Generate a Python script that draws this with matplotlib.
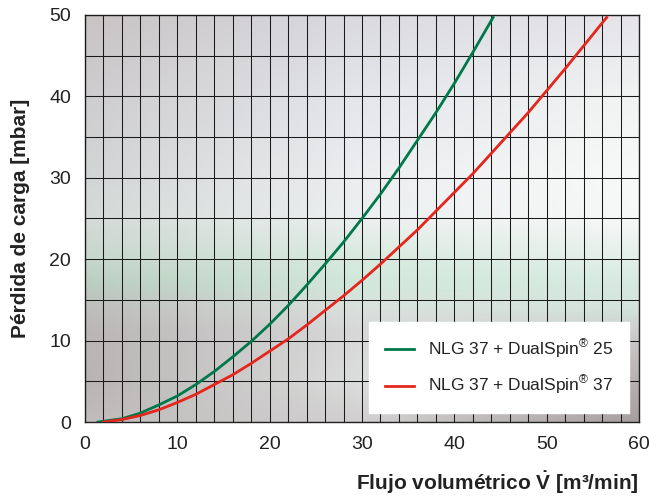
import numpy as np
import matplotlib
matplotlib.use('Agg')
import matplotlib.pyplot as plt

plt.rcParams['font.family'] = ['Liberation Sans', 'DejaVu Sans']
plt.rcParams['mathtext.fontset'] = 'custom'
plt.rcParams['mathtext.rm'] = 'Liberation Sans'
plt.rcParams['mathtext.bf'] = 'Liberation Sans:bold'

# curves (flow m3/min -> pressure drop mbar)
flow_25 = [1.4, 4, 6, 8, 10, 12, 14, 16, 18, 20, 22, 24, 26, 28, 30, 32, 34, 36, 38, 40, 42, 44.2]
dp_25 = [0, 0.4, 1.1, 2.1, 3.2, 4.6, 6.2, 8.0, 9.9, 12.0, 14.3, 16.8, 19.4, 22.1, 25.0, 28.0, 31.2, 34.6, 38.0, 41.6, 45.4, 49.7]

flow_37 = [2, 4, 6, 8, 10, 12, 14, 16, 18, 20, 22, 24, 26, 28, 30, 32, 34, 36, 38, 40, 42, 44, 46, 48, 50, 52, 54, 56.5]
dp_37 = [0, 0.3, 0.8, 1.5, 2.4, 3.4, 4.6, 5.8, 7.2, 8.7, 10.2, 11.9, 13.7, 15.5, 17.4, 19.4, 21.5, 23.6, 25.9, 28.2, 30.5, 33.0, 35.5, 38.0, 40.7, 43.4, 46.2, 49.7]

labels = ['NLG 37 + DualSpin$^{\\circledR}$ 25', 'NLG 37 + DualSpin$^{\\circledR}$ 37']
colors = ['#00794a', '#e4261c']

fig = plt.figure(figsize=(6.49, 4.99), dpi=100)
ax = fig.add_axes([0.131, 0.1543, 0.8536, 0.8157])

# background: photo-like gradient, columns left / middle / right, top -> bottom
stops = [0.0, 0.2, 0.4, 0.5, 0.6, 0.66, 0.72, 0.78, 0.9, 1.0]
left = [(200, 196, 196), (206, 204, 206), (210, 213, 213), (212, 218, 216), (198, 215, 203),
        (186, 206, 192), (190, 190, 188), (186, 182, 182), (184, 180, 180), (192, 188, 188)]
mid = [(218, 218, 224), (228, 230, 234), (236, 238, 240), (236, 240, 240), (216, 234, 222),
       (210, 232, 218), (218, 226, 222), (216, 216, 216), (220, 222, 221), (210, 208, 208)]
right = [(230, 228, 234), (240, 244, 242), (248, 250, 249), (247, 248, 248), (228, 240, 234),
         (214, 234, 224), (212, 228, 220), (204, 204, 204), (184, 176, 176), (168, 160, 160)]
ys = np.linspace(0, 1, 200)
prof = [np.stack([np.interp(ys, stops, np.array(c)[:, i]) for i in range(3)], axis=1)
        for c in (left, mid, right)]
xs = np.linspace(0, 1, 300)
w_mid = np.interp(xs, [0, 0.5, 1], [0, 1, 0])
w_left = np.clip(1 - 2 * xs, 0, 1)
w_right = np.clip(2 * xs - 1, 0, 1)
bg = (prof[0][:, None, :] * w_left[None, :, None] + prof[1][:, None, :] * w_mid[None, :, None]
      + prof[2][:, None, :] * w_right[None, :, None]) / 255.0
ax.imshow(np.clip(bg, 0, 1), extent=(0, 60, 0, 50), aspect='auto', origin='upper', zorder=0)

ax.plot(flow_25, dp_25, color=colors[0], lw=2.0, label=labels[0], zorder=3)
ax.plot(flow_37, dp_37, color=colors[1], lw=2.0, label=labels[1], zorder=3)

ax.set_xlim(0, 60)
ax.set_ylim(0, 50)
ax.set_xticks(np.arange(0, 61, 2), minor=True)
ax.set_xticks(np.arange(0, 61, 10))
ax.set_yticks(np.arange(0, 51, 5), minor=True)
ax.set_yticks(np.arange(0, 51, 10))
ax.grid(which='both', color='#1a1a1a', lw=0.75, zorder=1)
ax.set_axisbelow(False)
ax.tick_params(which='both', length=0, labelsize=14, colors='#222222', pad=10)
for s in ax.spines.values():
    s.set_color('#222222')
    s.set_linewidth(1.0)

ax.set_xlabel('Flujo volumétrico $\\mathbf{\\dot{V}}$ [m³/min]', fontsize=15, fontweight='bold',
              color='#222222', loc='right', labelpad=12)
ax.set_ylabel('Pérdida de carga [mbar]', fontsize=15, fontweight='bold',
              color='#222222', labelpad=14)

leg = ax.legend(loc='lower right', bbox_to_anchor=(0.982, 0.022), fontsize=12.5,
                frameon=True, fancybox=False, framealpha=1, facecolor='white',
                edgecolor='white', handlelength=1.7, handletextpad=0.8,
                labelspacing=0.75, borderpad=0.9, borderaxespad=0)
leg.set_zorder(5)
for t in leg.get_texts():
    t.set_color('#222222')

fig.savefig('out.png', dpi=100)
